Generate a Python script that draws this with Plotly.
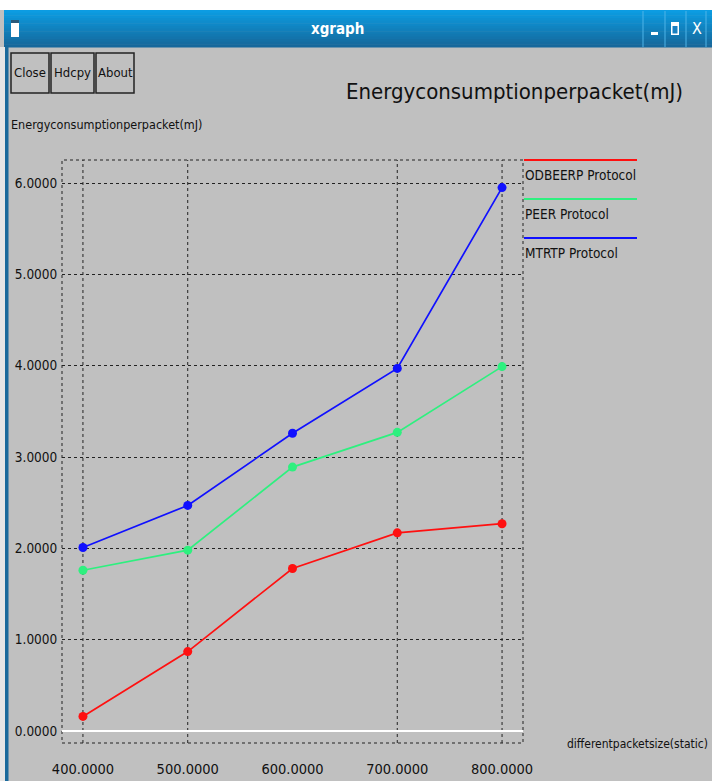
import plotly.graph_objects as go

# ---------------- data ----------------
packet_sizes = [400, 500, 600, 700, 800]
odbeerp = [0.16, 0.87, 1.78, 2.17, 2.27]
peer = [1.76, 1.98, 2.89, 3.27, 3.99]
mtrtp = [2.01, 2.47, 3.26, 3.97, 5.95]

series_names = ["ODBEERP Protocol", "PEER Protocol", "MTRTP Protocol"]
series_values = [odbeerp, peer, mtrtp]
series_colors = ["#ff1010", "#2ef07f", "#1010ff"]

x_ticks = [400, 500, 600, 700, 800]
y_ticks = [0, 1, 2, 3, 4, 5, 6]
x_grid = [400, 500, 700, 800]

title_text = "Energyconsumptionperpacket(mJ)"
y_label = "Energyconsumptionperpacket(mJ)"
x_label = "differentpacketsize(static)"
window_title = "xgraph"
buttons = ["Close", "Hdcpy", "About"]

# ---------------- layout geometry (pixels) ----------------
W, H = 712, 781
PL, PR, PT, PB = 62, 523, 160, 743
FONT = "DejaVu Sans Condensed, Liberation Sans Narrow, DejaVu Sans, sans-serif"


def fx(px):
    return (px - PL) / (PR - PL)


def fy(py):
    return (PB - py) / (PB - PT)


fig = go.Figure()

for name, vals, col in zip(series_names, series_values, series_colors):
    fig.add_trace(go.Scatter(
        x=packet_sizes, y=vals, mode="lines+markers", name=name,
        line=dict(color=col, width=1.7),
        marker=dict(color=col, size=9, symbol="circle"),
        showlegend=False,
    ))

shapes = []
annotations = []

# top white strip
shapes.append(dict(type="rect", xref="paper", yref="paper", x0=fx(0), x1=fx(W),
                   y0=fy(0), y1=fy(10), fillcolor="white", line=dict(width=0), layer="below"))
# title bar gradient bands
top_c = (12, 156, 226)
bot_c = (22, 104, 156)
bar_top, bar_bot = 10, 47
n = 14
for i in range(n):
    t = i / (n - 1)
    c = tuple(int(top_c[k] + (bot_c[k] - top_c[k]) * t) for k in range(3))
    y0 = bar_top + (bar_bot - bar_top) * i / n
    y1 = bar_top + (bar_bot - bar_top) * (i + 1) / n
    shapes.append(dict(type="rect", xref="paper", yref="paper", x0=fx(4), x1=fx(W),
                       y0=fy(y0), y1=fy(y1 + 0.5), fillcolor="rgb(%d,%d,%d)" % c,
                       line=dict(width=0), layer="below"))
# left window border
shapes.append(dict(type="rect", xref="paper", yref="paper", x0=fx(0), x1=fx(5),
                   y0=fy(bar_bot), y1=fy(H), fillcolor="#e6e6e6", line=dict(width=0), layer="below"))
shapes.append(dict(type="rect", xref="paper", yref="paper", x0=fx(5), x1=fx(8.5),
                   y0=fy(bar_bot), y1=fy(H), fillcolor="#1b6a9c", line=dict(width=0), layer="below"))
# window icon
shapes.append(dict(type="rect", xref="paper", yref="paper", x0=fx(11), x1=fx(19),
                   y0=fy(20), y1=fy(37), fillcolor="white", line=dict(width=0), layer="below"))
shapes.append(dict(type="rect", xref="paper", yref="paper", x0=fx(11), x1=fx(19),
                   y0=fy(20), y1=fy(23), fillcolor="#2a5a7a", line=dict(width=0), layer="below"))
# title bar buttons separators
for sx in [643, 665, 686, 706]:
    shapes.append(dict(type="line", xref="paper", yref="paper", x0=fx(sx), x1=fx(sx),
                       y0=fy(bar_top + 1), y1=fy(bar_bot), line=dict(color="#4fb4e8", width=1), layer="below"))
shapes.append(dict(type="rect", xref="paper", yref="paper", x0=fx(651), x1=fx(658),
                   y0=fy(32), y1=fy(35), fillcolor="white", line=dict(width=0), layer="below"))
shapes.append(dict(type="rect", xref="paper", yref="paper", x0=fx(671), x1=fx(679),
                   y0=fy(22), y1=fy(35), fillcolor="white", line=dict(width=0), layer="below"))
shapes.append(dict(type="rect", xref="paper", yref="paper", x0=fx(672.5), x1=fx(677.5),
                   y0=fy(26), y1=fy(33.5), fillcolor="#1a80c0", line=dict(width=0), layer="below"))
annotations.append(dict(text="X", xref="paper", yref="paper", x=fx(697), y=fy(29),
                        xanchor="center", yanchor="middle", showarrow=False,
                        font=dict(family=FONT, size=16, color="white")))
annotations.append(dict(text="<b>" + window_title + "</b>", xref="paper", yref="paper",
                        x=fx(337), y=fy(29), xanchor="center", yanchor="middle", showarrow=False,
                        font=dict(family=FONT, size=15, color="white")))

# buttons
btn_edges = [(11, 49), (51, 94), (96, 134)]
for lab, (bx0, bx1) in zip(buttons, btn_edges):
    shapes.append(dict(type="rect", xref="paper", yref="paper", x0=fx(bx0), x1=fx(bx1),
                       y0=fy(53), y1=fy(93), fillcolor="rgba(0,0,0,0)",
                       line=dict(color="#222222", width=1.5), layer="below"))
    annotations.append(dict(text=lab, xref="paper", yref="paper", x=fx((bx0 + bx1) / 2), y=fy(73),
                            xanchor="center", yanchor="middle", showarrow=False,
                            font=dict(family=FONT, size=13, color="#111111")))

# title & axis labels
annotations.append(dict(text=title_text, xref="paper", yref="paper", x=fx(685), y=fy(91),
                        xanchor="right", yanchor="middle", showarrow=False,
                        font=dict(family=FONT, size=22, color="#111111")))
annotations.append(dict(text=y_label, xref="paper", yref="paper", x=fx(9), y=fy(125),
                        xanchor="left", yanchor="middle", showarrow=False,
                        font=dict(family=FONT, size=12.5, color="#111111")))
annotations.append(dict(text=x_label, xref="paper", yref="paper", x=fx(710), y=fy(744),
                        xanchor="right", yanchor="middle", showarrow=False,
                        font=dict(family=FONT, size=12, color="#111111")))

# legend (custom, xgraph style)
leg_y = [160, 199, 238]
for name, col, ly in zip(series_names, series_colors, leg_y):
    shapes.append(dict(type="line", xref="paper", yref="paper", x0=fx(524), x1=fx(637),
                       y0=fy(ly), y1=fy(ly), line=dict(color=col, width=2)))
    annotations.append(dict(text=name, xref="paper", yref="paper", x=fx(523), y=fy(ly + 15),
                            xanchor="left", yanchor="middle", showarrow=False,
                            font=dict(family=FONT, size=13.5, color="#111111")))

# vertical grid lines (xgraph skipped 600)
for gx in x_grid:
    shapes.append(dict(type="line", xref="x", yref="paper", x0=gx, x1=gx, y0=0, y1=1,
                       line=dict(color="#222222", width=1, dash="dot"), layer="below"))
# dotted frame
shapes.append(dict(type="rect", xref="paper", yref="paper", x0=0, x1=1, y0=0, y1=1,
                   line=dict(color="#222222", width=1, dash="dot"), layer="below"))

fig.update_layout(
    width=W, height=H,
    margin=dict(l=PL, r=W - PR, t=PT, b=H - PB, pad=0, autoexpand=False),
    paper_bgcolor="#c0c0c0", plot_bgcolor="#c0c0c0",
    shapes=shapes, annotations=annotations,
    showlegend=False,
    font=dict(family=FONT, color="#111111"),
)
fig.update_xaxes(
    range=[380, 820], tickvals=x_ticks, tickformat=".4f", automargin=False,
    showgrid=False, zeroline=False, showline=False,
    ticks="outside", ticklen=13, tickcolor="rgba(0,0,0,0)",
    tickfont=dict(family=FONT, size=14.5, color="#111111"),
)
fig.update_yaxes(
    range=[-0.131, 6.252], tickvals=y_ticks, tickformat=".4f", automargin=False,
    showgrid=True, gridcolor="#222222", griddash="dot", gridwidth=1,
    zeroline=True, zerolinecolor="white", zerolinewidth=2,
    showline=False, ticks="outside", ticklen=1, tickcolor="rgba(0,0,0,0)",
    tickfont=dict(family=FONT, size=13.5, color="#111111"),
)

fig.write_html("out.html")
